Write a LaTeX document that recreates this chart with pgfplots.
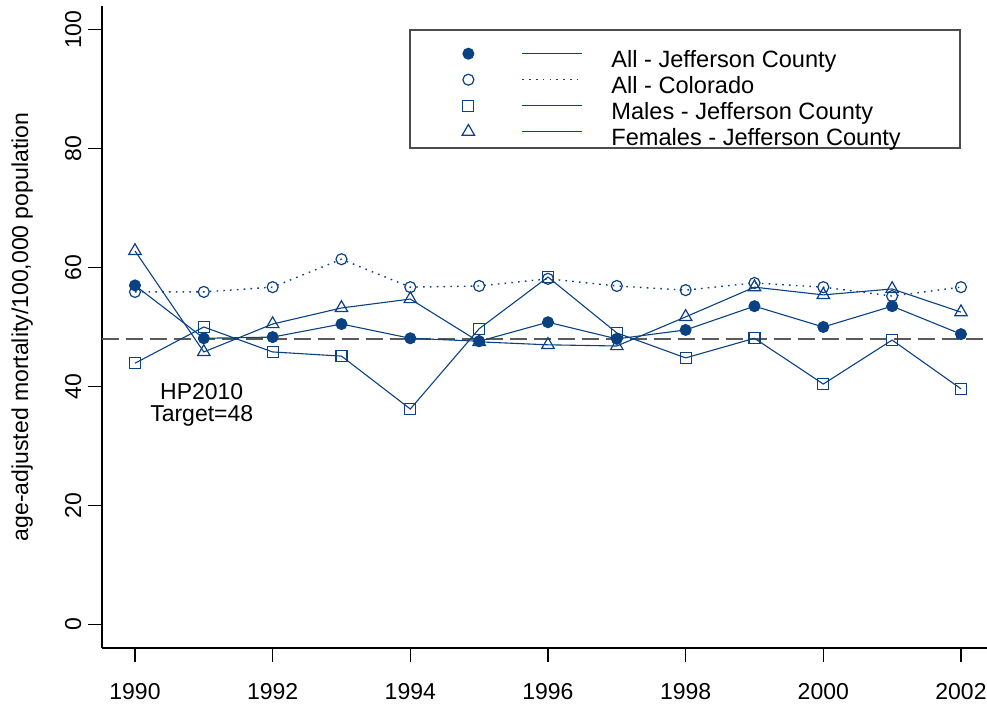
\documentclass[border=0pt]{standalone}
\usepackage{pgfplots}
\pgfplotsset{compat=1.18}
\usepackage{fontspec}
\setmainfont{Liberation Sans}
\definecolor{ser}{HTML}{0A4183}
\definecolor{refg}{HTML}{5A5A5A}
\begin{document}
\begin{tikzpicture}
\useasboundingbox (-51pt,-28pt) rectangle (442.5pt,324pt);
\begin{axis}[
  scale only axis, width=442.5pt, height=321pt,
  xmin=1989.521, xmax=2002.378, ymin=-4, ymax=104,
  axis lines=left, axis line style={-, line width=0.6pt, black},
  xtick={1990,1992,...,2002}, ytick={0,20,...,100},
  tick align=outside, major tick length=7pt, tick style={line width=0.6pt, black},
  /pgf/number format/1000 sep={},
  /pgf/number format/assume math mode=true,
  tick label style={font=\fontsize{11.5}{13}\selectfont},
  xticklabel style={anchor=base, yshift=-19pt},
  yticklabel style={xshift=-3.5pt, rotate=90, anchor=base},
  every axis y label/.style={at={(axis description cs:-0.0836,0.5)}, rotate=90, anchor=base, font=\fontsize{11.5}{13}\selectfont},
  ylabel={age-adjusted mortality/100,000 population},
  clip=false,
  legend style={at={(rel axis cs:0.348,0.9397)}, anchor=north west, draw=none, fill=none,
    inner sep=0pt, column sep=0pt, row sep=0pt, font=\fontsize{11.8}{13}\selectfont,
    cells={anchor=base west}, nodes={inner sep=0pt, text height=8.5pt, text depth=2pt}},
]
\addplot[refg, line width=1pt, dash pattern=on 8.5pt off 3.5pt, forget plot] coordinates {(1989.521,48) (2002.378,48)};

\addplot[ser, line width=0.55pt, mark=*, mark size=2.75pt, mark options={solid, fill=ser, line width=0.5pt},
  legend image code/.code={
    \path[draw=none, fill=none] (-29pt,-2pt) rectangle (71.5pt,11pt);
    \draw[mark=none] (27pt,6.7pt) -- (57pt,6.7pt);
    \draw plot[only marks] coordinates {(0pt,6.7pt)};
  }] coordinates {
(1990,57.0) (1991,48.1) (1992,48.3) (1993,50.5) (1994,48.1) (1995,47.6) (1996,50.8)
(1997,48.0) (1998,49.5) (1999,53.5) (2000,50.0) (2001,53.5) (2002,48.8)};
\addlegendentry{All - Jefferson County}

\addplot[ser, line width=0.7pt, dash pattern=on 0.8pt off 2.6pt, mark=o, mark size=2.75pt, mark options={solid, line width=0.6pt},
  legend image code/.code={
    \path[draw=none, fill=none] (-29pt,-2pt) rectangle (71.5pt,11pt);
    \draw[mark=none] (27pt,6.7pt) -- (57pt,6.7pt);
    \draw plot[only marks] coordinates {(0pt,6.7pt)};
  }] coordinates {
(1990,55.9) (1991,55.9) (1992,56.7) (1993,61.4) (1994,56.7) (1995,56.9) (1996,58.1)
(1997,56.9) (1998,56.2) (1999,57.4) (2000,56.7) (2001,55.2) (2002,56.7)};
\addlegendentry{All - Colorado}

\addplot[ser, line width=0.55pt, mark=square, mark size=2.75pt, mark options={solid, line width=0.6pt},
  legend image code/.code={
    \path[draw=none, fill=none] (-29pt,-2pt) rectangle (71.5pt,11pt);
    \draw[mark=none] (27pt,6.7pt) -- (57pt,6.7pt);
    \draw plot[only marks] coordinates {(0pt,6.7pt)};
  }] coordinates {
(1990,43.9) (1991,50.0) (1992,45.8) (1993,45.1) (1994,36.2) (1995,49.7) (1996,58.4)
(1997,49.0) (1998,44.8) (1999,48.1) (2000,40.4) (2001,47.8) (2002,39.6)};
\addlegendentry{Males - Jefferson County}

\addplot[ser, line width=0.55pt, mark=triangle, mark size=3.6pt, mark options={solid, line width=0.6pt},
  legend image code/.code={
    \path[draw=none, fill=none] (-29pt,-2pt) rectangle (71.5pt,11pt);
    \draw[mark=none] (27pt,6.7pt) -- (57pt,6.7pt);
    \draw plot[only marks] coordinates {(0pt,6.7pt)};
  }] coordinates {
(1990,62.8) (1991,45.8) (1992,50.5) (1993,53.2) (1994,54.7) (1995,47.5) (1996,47.0)
(1997,46.8) (1998,51.7) (1999,56.7) (2000,55.4) (2001,56.4) (2002,52.5)};
\addlegendentry{Females - Jefferson County}

\draw[black!70, line width=0.6pt] (rel axis cs:0.348,0.7788) rectangle (rel axis cs:0.9695,0.9626);
\node[align=center, font=\fontsize{11.5}{11}\selectfont, inner sep=0pt] at (axis cs:1990.97,36.9) {HP2010\\Target=48};
\end{axis}
\end{tikzpicture}
\end{document}
